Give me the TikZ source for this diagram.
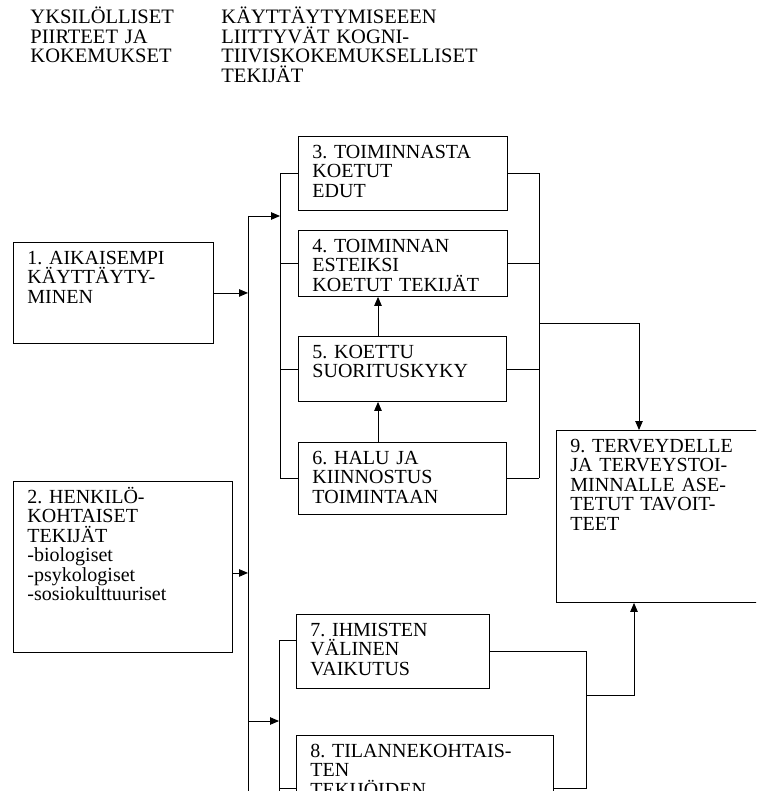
\documentclass[tikz,border=0pt]{standalone}
\usepackage{fontspec}
\setmainfont{Liberation Serif}
\usetikzlibrary{arrows,arrows.meta}

\begin{document}
\frenchspacing
\begin{tikzpicture}[x=1pt,y=-1pt,line width=0.9pt]
\tikzstyle{laatikko}=[draw,anchor=north west,align=left,inner xsep=14pt,inner ysep=0pt,text height=22pt,font=\fontsize{20}{19.5}\selectfont]
\tikzstyle{otsikko}=[anchor=base west,align=left,inner sep=0pt,font=\fontsize{20.5}{19.5}\selectfont]
\tikzstyle{nuoli}=[-{Triangle[length=9pt,width=7.5pt]}]

\useasboundingbox (0,0) rectangle (756,791);
\clip (0,0) rectangle (756,791);

% otsikot
\node[otsikko,text width=185pt] (h1) at (30,24) {YKSILÖLLISET\\PIIRTEET JA\\KOKEMUKSET};
\node[otsikko,text width=330pt] (h2) at (221,24) {KÄYTTÄYTYMISEEEN\\LIITTYVÄT KOGNI-\\TIIVISKOKEMUKSELLISET\\TEKIJÄT};

% laatikot
\node[laatikko,text width=172pt,text depth=79pt] (b1) at (13,242) {1. AIKAISEMPI\\KÄYTTÄYTY-\\MINEN};
\node[laatikko,text width=191pt,text depth=149pt] (b2) at (13,481) {2. HENKILÖ-\\KOHTAISET\\TEKIJÄT\\-biologiset\\-psykologiset\\-sosiokulttuuriset};
\node[laatikko,text width=181pt,text depth=52pt] (b3) at (298,136) {3. TOIMINNASTA\\KOETUT\\EDUT};
\node[laatikko,text width=181pt,text depth=44pt] (b4) at (298,230) {4. TOIMINNAN\\ESTEIKSI\\KOETUT TEKIJÄT};
\node[laatikko,text width=180pt,text depth=43pt] (b5) at (298,336) {5. KOETTU\\SUORITUSKYKY};
\node[laatikko,text width=180pt,text depth=50pt] (b6) at (298,442) {6. HALU JA\\KIINNOSTUS\\TOIMINTAAN};
\node[laatikko,text width=165pt,text depth=52pt] (b7) at (296,614) {7. IHMISTEN\\VÄLINEN\\VAIKUTUS};
\node[laatikko,text width=229pt,text depth=84pt] (b8) at (296,735) {8. TILANNEKOHTAIS-\\TEN\\TEKIJÖIDEN};
\node[laatikko,text width=186pt,text depth=150pt] (b9) at (556,430) {9. TERVEYDELLE\\JA TERVEYSTOI-\\MINNALLE ASE-\\TETUT TAVOIT-\\TEET};

% kiskot
\coordinate (vaS) at (248,216);
\coordinate (vaB) at (248,721);
\coordinate (vaA) at (248,800);
\coordinate (k2) at (280,0);
\coordinate (k3) at (279,0);
\coordinate (oA) at (539,323);
\coordinate (oB) at (586,695);
\coordinate (ylos) at (378,0);

\draw (vaS) -- (vaA);
\draw [nuoli](b1.east) -- (b1.east -| vaS);
\draw [nuoli]([yshift=-6pt]b2.east) -- ([yshift=-6pt]b2.east -| vaS);
\draw [nuoli](vaS) -- (vaS -| k2);
\draw [nuoli](vaB) -- (vaB -| k3);

\draw (b3.west -| k2) -- (b6.west -| k2);
\draw (b3.west) -- (b3.west -| k2);
\draw (b4.west) -- (b4.west -| k2);
\draw (b5.west) -- (b5.west -| k2);
\draw (b6.west) -- (b6.west -| k2);

\draw (b3.east -| oA) -- (b6.east -| oA);
\draw (b3.east) -- (b3.east -| oA);
\draw (b4.east) -- (b4.east -| oA);
\draw (b5.east) -- (b5.east -| oA);
\draw (b6.east) -- (b6.east -| oA);
\draw [nuoli](oA) -| ([xshift=83pt]b9.north west);

\draw [nuoli](b6.north -| ylos) -- (b5.south -| ylos);
\draw [nuoli](b5.north -| ylos) -- (b4.south -| ylos);

\draw ([yshift=11pt]b7.west) -- ([yshift=11pt]b7.west -| k3) -- (k3 |- vaA);
\draw (b8.west) -- (b8.west -| k3);
\draw (b7.east) -- (b7.east -| oB) -- (b8.east -| oB) -- (b8.east);
\draw [nuoli](oB) -| ([xshift=78pt]b9.south west);
\end{tikzpicture}
\end{document}
